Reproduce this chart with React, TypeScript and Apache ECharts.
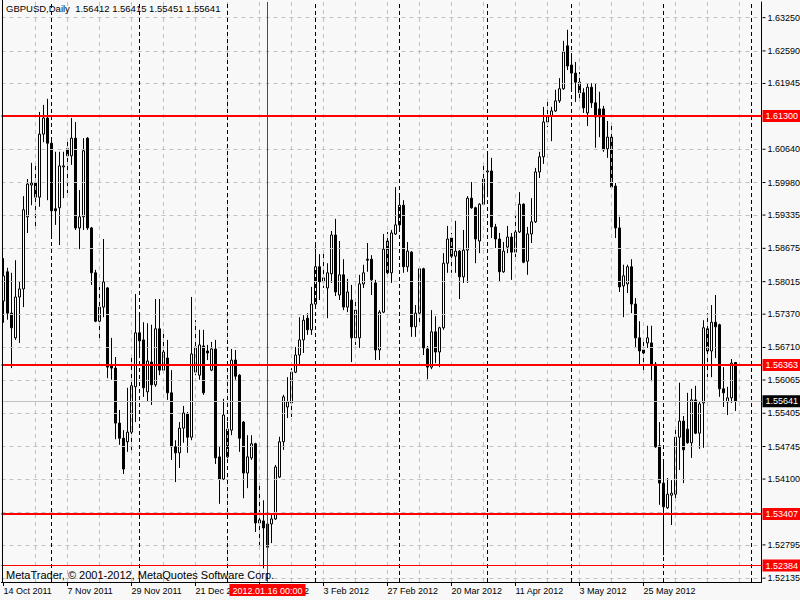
import React, { useEffect, useRef } from "react";
import * as echarts from "echarts";

// ---------- texts ----------
const SYMBOL_TITLE = "GBPUSD,Daily";
const HEADER_OHLC = ["1.56412", "1.56415", "1.55451", "1.55641"];
const COPYRIGHT = "MetaTrader, \u00A9 2001-2012, MetaQuotes Software Corp.";

// ---------- daily bars (14 Oct 2011 onward, weekdays) ----------
const opens = [
  1.5763, 1.5821, 1.5739, 1.569, 1.5771, 1.5787, 1.593, 1.5993, 1.5997, 1.5969,
  1.6094, 1.6126, 1.6076, 1.5946, 1.5948, 1.6029, 1.6065, 1.6051, 1.6086, 1.5908,
  1.593, 1.6086, 1.5908, 1.5819, 1.5723, 1.5751, 1.5789, 1.5636, 1.563, 1.5521,
  1.5491, 1.5484, 1.5503, 1.5593, 1.57, 1.5686, 1.5583, 1.5642, 1.5597, 1.5708,
  1.5626, 1.565, 1.5581, 1.5474, 1.5462, 1.5511, 1.5539, 1.5493, 1.5622, 1.5616,
  1.5674, 1.5664, 1.5626, 1.5668, 1.5454, 1.541, 1.5454, 1.5507, 1.5646, 1.5616,
  1.5523, 1.5422, 1.5452, 1.548, 1.5323, 1.5327, 1.5321, 1.5321, 1.5331, 1.5414,
  1.5484, 1.5553, 1.5561, 1.5622, 1.5656, 1.5686, 1.5729, 1.5706, 1.5757, 1.5831,
  1.5801, 1.5789, 1.5817, 1.5894, 1.5775, 1.5815, 1.5751, 1.5765, 1.569, 1.569,
  1.5797, 1.5846, 1.5846, 1.5799, 1.5666, 1.5741, 1.5882, 1.5819, 1.5896, 1.5914,
  1.5953, 1.5831, 1.586, 1.5712, 1.5739, 1.5827, 1.5668, 1.5632, 1.5702, 1.5662,
  1.571, 1.5838, 1.5888, 1.5852, 1.5862, 1.5811, 1.5864, 1.5967, 1.5948, 1.5882,
  1.5955, 1.6019, 1.6021, 1.591, 1.5886, 1.5821, 1.587, 1.589, 1.586, 1.59,
  1.5955, 1.5842, 1.5896, 1.592, 1.6019, 1.6049, 1.6118, 1.613, 1.614, 1.616,
  1.6184, 1.6269, 1.6231, 1.6215, 1.6197, 1.6176, 1.6136, 1.6187, 1.6156, 1.6144,
  1.6144, 1.6065, 1.6088, 1.5991, 1.5908, 1.5793, 1.5797, 1.5831, 1.5757, 1.569,
  1.5666, 1.568, 1.568, 1.5638, 1.5476, 1.5402, 1.5353, 1.5378, 1.538, 1.5493,
  1.5525, 1.5509, 1.5482, 1.5567, 1.5501, 1.5561, 1.5708, 1.5664, 1.5721, 1.5716,
  1.5589, 1.5563, 1.5571, 1.56412,
];
const closes = [
  1.5813, 1.5739, 1.571, 1.5771, 1.5787, 1.5944, 1.5995, 1.5997, 1.5969, 1.6094,
  1.6126, 1.6076, 1.5942, 1.5942, 1.6031, 1.6031, 1.6051, 1.6086, 1.5908, 1.593,
  1.6061, 1.5908, 1.5819, 1.5723, 1.5751, 1.5801, 1.5632, 1.563, 1.5521, 1.5491,
  1.543, 1.5503, 1.5595, 1.57, 1.5684, 1.5591, 1.5644, 1.5597, 1.5708, 1.5626,
  1.5662, 1.5581, 1.5474, 1.5462, 1.5511, 1.5541, 1.5493, 1.5658, 1.5672, 1.5676,
  1.5581, 1.566, 1.5668, 1.5452, 1.541, 1.5537, 1.5509, 1.5646, 1.5614, 1.5491,
  1.5422, 1.5454, 1.548, 1.5323, 1.5329, 1.5313, 1.5275, 1.5331, 1.5434, 1.5484,
  1.5573, 1.5563, 1.5622, 1.5656, 1.5686, 1.5725, 1.5706, 1.5757, 1.5831, 1.5801,
  1.5809, 1.5819, 1.5894, 1.5781, 1.5815, 1.5751, 1.5781, 1.569, 1.5745, 1.5797,
  1.5819, 1.5844, 1.5805, 1.5666, 1.5741, 1.5866, 1.5819, 1.5898, 1.5914, 1.5953,
  1.5831, 1.5862, 1.5712, 1.5739, 1.5827, 1.567, 1.5632, 1.5702, 1.5662, 1.571,
  1.5838, 1.5886, 1.5852, 1.5862, 1.5811, 1.5864, 1.5967, 1.5948, 1.5886, 1.5955,
  1.6005, 1.6021, 1.591, 1.5886, 1.5821, 1.5862, 1.589, 1.586, 1.59, 1.5955,
  1.584, 1.5896, 1.592, 1.6019, 1.6049, 1.6118, 1.613, 1.614, 1.616, 1.6184,
  1.6257, 1.6229, 1.6215, 1.6197, 1.6176, 1.6146, 1.6187, 1.6156, 1.6128, 1.6128,
  1.6063, 1.6088, 1.5989, 1.5908, 1.5791, 1.5813, 1.5831, 1.5757, 1.569, 1.5664,
  1.566, 1.569, 1.5636, 1.5474, 1.5402, 1.5355, 1.538, 1.5382, 1.5493, 1.5525,
  1.5468, 1.5482, 1.5567, 1.5501, 1.5559, 1.571, 1.5664, 1.5721, 1.5712, 1.5589,
  1.5581, 1.5571, 1.564, 1.55641,
];
const lows = [
  1.572, 1.5726, 1.563, 1.5686, 1.568, 1.5751, 1.5898, 1.5953, 1.5908, 1.595,
  1.6078, 1.5963, 1.5888, 1.5914, 1.5874, 1.5967, 1.5977, 1.6033, 1.5904, 1.5866,
  1.5904, 1.5904, 1.5795, 1.5721, 1.5688, 1.5731, 1.561, 1.5607, 1.5489, 1.5478,
  1.542, 1.5464, 1.5464, 1.5523, 1.5656, 1.5573, 1.5563, 1.5557, 1.5593, 1.5616,
  1.5622, 1.5567, 1.5448, 1.5404, 1.5432, 1.5482, 1.5462, 1.5487, 1.5616, 1.5607,
  1.5577, 1.5646, 1.5624, 1.544, 1.5361, 1.5408, 1.5442, 1.5497, 1.5607, 1.5464,
  1.5372, 1.5392, 1.5448, 1.5305, 1.5275, 1.5233, 1.5273, 1.5283, 1.5329, 1.5412,
  1.5468, 1.5531, 1.5533, 1.562, 1.5636, 1.566, 1.5696, 1.5696, 1.5755, 1.5765,
  1.5789, 1.5729, 1.5799, 1.5773, 1.5765, 1.5745, 1.5741, 1.5642, 1.5676, 1.567,
  1.5789, 1.5821, 1.5775, 1.5646, 1.5646, 1.5739, 1.5809, 1.5799, 1.5894, 1.5908,
  1.5819, 1.5821, 1.5692, 1.5692, 1.5719, 1.5656, 1.5608, 1.5628, 1.564, 1.5632,
  1.5706, 1.5819, 1.5819, 1.5819, 1.5767, 1.5799, 1.5799, 1.5946, 1.5838, 1.5858,
  1.5953, 1.5969, 1.5888, 1.5868, 1.5801, 1.5819, 1.5858, 1.5805, 1.585, 1.5898,
  1.5838, 1.5815, 1.5878, 1.5918, 1.6007, 1.6035, 1.6108, 1.608, 1.6138, 1.6156,
  1.6182, 1.6221, 1.6185, 1.6158, 1.6158, 1.6136, 1.611, 1.6146, 1.6067, 1.6088,
  1.6059, 1.6047, 1.5987, 1.5888, 1.5781, 1.5731, 1.5779, 1.5739, 1.5672, 1.5636,
  1.5626, 1.567, 1.5604, 1.5472, 1.5359, 1.5259, 1.5351, 1.5319, 1.537, 1.5428,
  1.5402, 1.548, 1.5452, 1.5499, 1.547, 1.5472, 1.5612, 1.5612, 1.565, 1.5573,
  1.5553, 1.5537, 1.5561, 1.55451,
];
const highs = [
  1.5848, 1.5829, 1.5819, 1.5844, 1.5801, 1.5971, 1.6005, 1.6037, 1.6039, 1.6138,
  1.6152, 1.6164, 1.6086, 1.6059, 1.6059, 1.6059, 1.6086, 1.6126, 1.6118, 1.5983,
  1.6086, 1.6088, 1.591, 1.5825, 1.5791, 1.5886, 1.5791, 1.569, 1.5652, 1.5547,
  1.5507, 1.5591, 1.5652, 1.5777, 1.5741, 1.5721, 1.5719, 1.5716, 1.5767, 1.5767,
  1.5706, 1.5686, 1.5626, 1.5487, 1.5523, 1.5555, 1.5543, 1.5771, 1.5725, 1.5706,
  1.5706, 1.5676, 1.5682, 1.5686, 1.5474, 1.5569, 1.5527, 1.5668, 1.5666, 1.5618,
  1.5525, 1.5497, 1.5497, 1.5482, 1.5404, 1.5368, 1.5343, 1.5339, 1.5438, 1.5494,
  1.5577, 1.5612, 1.563, 1.5672, 1.5731, 1.5735, 1.5739, 1.5791, 1.588, 1.5856,
  1.5858, 1.5838, 1.5902, 1.5926, 1.5882, 1.5846, 1.5807, 1.5795, 1.5765, 1.5815,
  1.5835, 1.5878, 1.5854, 1.5805, 1.5745, 1.5896, 1.59, 1.5904, 1.5989, 1.5977,
  1.5963, 1.588, 1.5862, 1.5755, 1.5831, 1.5829, 1.5674, 1.5745, 1.5733, 1.5712,
  1.5858, 1.5912, 1.5898, 1.5922, 1.5864, 1.5904, 1.5971, 1.5999, 1.595, 1.5957,
  1.6035, 1.6059, 1.6047, 1.5916, 1.5898, 1.588, 1.5912, 1.5898, 1.5934, 1.5979,
  1.5957, 1.591, 1.5967, 1.6027, 1.6059, 1.6148, 1.6162, 1.6148, 1.6182, 1.6205,
  1.6279, 1.6301, 1.6249, 1.6237, 1.6217, 1.6185, 1.6195, 1.6195, 1.6195, 1.6178,
  1.615, 1.612, 1.6112, 1.5997, 1.593, 1.5835, 1.5835, 1.5846, 1.5769, 1.5723,
  1.569, 1.5714, 1.5714, 1.5642, 1.5523, 1.5442, 1.5412, 1.5408, 1.5513, 1.5601,
  1.5535, 1.5581, 1.5589, 1.5595, 1.5563, 1.5725, 1.5739, 1.5755, 1.5775, 1.5718,
  1.5632, 1.5593, 1.5648, 1.56415,
];

// ---------- axes / levels ----------
const SLOT_COUNT = 190; // bars + empty chart shift on the right
const MONTH_NAMES = ["Jan", "Feb", "Mar", "Apr", "May", "Jun", "Jul", "Aug", "Sep", "Oct", "Nov", "Dec"];
const X_LABEL_EVERY = 16;
const X_GRID_EVERY = 8;
const monthSeparators = [12, 34, 56, 78, 99, 121, 142, 165, 187];
const gridPrices = [
  1.6325, 1.6259, 1.61945, 1.613, 1.6064, 1.5998, 1.59335, 1.58675, 1.58015,
  1.5737, 1.5671, 1.56065, 1.55405, 1.54745, 1.541, 1.5344, 1.52795, 1.52135,
];
const yTickLabels = [
  "1.63250", "1.62590", "1.61945", "1.60640", "1.59980", "1.59335", "1.58675", "1.58015",
  "1.57370", "1.56710", "1.56065", "1.55405", "1.54745", "1.54100", "1.52795", "1.52135",
];
const levelPrices = [1.613, 1.56363, 1.53407];
const levelLabels = ["1.61300", "1.56363", "1.53407"];
const bidPrice = 1.55641;
const bidLabel = "1.55641";
const crossPrice = 1.52384;
const crossPriceLabel = "1.52384";
const crossIndex = 66;
const crossTimeLabel = "2012.01.16 00:00";
const Y_MIN = 1.52059;
const Y_MAX = 1.6356;

const FONT = "'Liberation Sans', Arial, sans-serif";

function buildCategories(): string[] {
  const out: string[] = [];
  const d = new Date(Date.UTC(2011, 9, 14));
  while (out.length < SLOT_COUNT) {
    const wd = d.getUTCDay();
    if (wd !== 0 && wd !== 6) {
      out.push(`${d.getUTCDate()} ${MONTH_NAMES[d.getUTCMonth()]} ${d.getUTCFullYear()}`);
    }
    d.setUTCDate(d.getUTCDate() + 1);
  }
  return out;
}

export default function App() {
  const ref = useRef<HTMLDivElement>(null);

  useEffect(() => {
    if (!ref.current) return;
    const chart = echarts.init(ref.current, undefined, { renderer: "svg" });
    const categories = buildCategories();
    const candles = opens.map((o, i) => [o, closes[i], lows[i], highs[i]]);

    const gridLineItems: any[] = [];
    gridPrices.forEach((p) => {
      const lbl = yTickLabels.find((l) => Math.abs(parseFloat(l) - p) < 1e-7);
      gridLineItems.push({
        yAxis: p,
        lineStyle: { color: "#c0c0c0", type: [4, 4], width: 1 },
        label: {
          show: !!lbl,
          position: "end",
          formatter: lbl ? `{t|}{v|${lbl}}` : "",
          color: "#000",
          fontFamily: FONT,
          fontSize: 9,
          distance: 1,
          rich: {
            t: { width: 3, height: 1, backgroundColor: "#000" },
            v: { color: "#000", fontFamily: FONT, fontSize: 9, padding: [0, 0, 0, 2] },
          },
        },
      });
    });
    for (let i = X_GRID_EVERY; i < SLOT_COUNT; i += X_GRID_EVERY) {
      gridLineItems.push({
        xAxis: i,
        lineStyle: { color: "#c0c0c0", type: [4, 4], width: 1 },
        label: { show: false },
      });
    }
    monthSeparators.forEach((i) => {
      gridLineItems.push({
        xAxis: i,
        lineStyle: { color: "#000", type: [4, 3], width: 1 },
        label: { show: false },
      });
    });
    gridLineItems.push({
      yAxis: bidPrice,
      lineStyle: { color: "#c0c0c0", type: "solid", width: 1 },
      label: {
        show: true,
        position: "end",
        formatter: bidLabel,
        color: "#fff",
        backgroundColor: "#000",
        padding: [2, 3, 1, 3],
        fontFamily: FONT,
        fontSize: 9,
        distance: 1,
      },
    });

    const redLabel = (text: string) => ({
      show: true,
      position: "end",
      formatter: text,
      color: "#fff",
      backgroundColor: "#ff0000",
      padding: [2, 3, 1, 3],
      fontFamily: FONT,
      fontSize: 9,
      distance: 1,
    });

    const levelItems: any[] = levelPrices.map((p, k) => ({
      yAxis: p,
      lineStyle: { color: "#ff0000", type: "solid", width: 2 },
      label: redLabel(levelLabels[k]),
    }));
    levelItems.push({
      yAxis: crossPrice,
      lineStyle: { color: "#ff0000", type: "solid", width: 1 },
      label: redLabel(crossPriceLabel),
    });
    levelItems.push({
      xAxis: crossIndex,
      lineStyle: { color: "#ff0000", type: "solid", width: 1 },
      label: {
        show: true,
        position: "start",
        formatter: crossTimeLabel,
        color: "#fff",
        backgroundColor: "#ff0000",
        padding: [2, 3, 1, 3],
        fontFamily: FONT,
        fontSize: 9,
        distance: 2,
      },
    });

    const header = `${SYMBOL_TITLE}  ${HEADER_OHLC.join(" ")}`;

    chart.setOption({
      animation: false,
      backgroundColor: "#f8f8f8",
      grid: { left: 1.5, right: 38.5, top: 2, bottom: 18, containLabel: false },
      xAxis: {
        type: "category",
        data: categories,
        boundaryGap: true,
        axisLine: { show: true, lineStyle: { color: "#000", width: 1 } },
        axisTick: {
          show: true,
          alignWithLabel: true,
          interval: (i: number) => i % X_LABEL_EVERY === 0,
          length: 4,
          lineStyle: { color: "#000" },
        },
        axisLabel: {
          show: true,
          interval: (i: number) => i % X_LABEL_EVERY === 0,
          align: "left",
          margin: 4,
          color: "#000",
          fontFamily: FONT,
          fontSize: 9,
          showMinLabel: true,
          showMaxLabel: false,
        },
        splitLine: { show: false },
      },
      yAxis: {
        type: "value",
        position: "right",
        min: Y_MIN,
        max: Y_MAX,
        axisLine: { show: true, lineStyle: { color: "#000", width: 1 } },
        axisTick: { show: false },
        axisLabel: { show: false },
        splitLine: { show: false },
      },
      graphic: [
        {
          type: "line",
          shape: { x1: 2.5, y1: 0, x2: 2.5, y2: 582 },
          style: { stroke: "#000", lineWidth: 1 },
          z: 10,
        },
        {
          type: "text",
          left: 6,
          top: 3,
          style: { text: header, fill: "#000", font: `9.5px ${FONT}` },
          z: 10,
        },
        {
          type: "text",
          left: 6,
          top: 569,
          style: { text: COPYRIGHT, fill: "#000", font: `11px ${FONT}` },
          z: 10,
        },
      ],
      series: [
        {
          type: "line",
          data: [],
          z: 1,
          silent: true,
          markLine: {
            silent: true,
            precision: 6,
            symbol: ["none", "none"],
            animation: false,
            data: gridLineItems,
          },
        },
        {
          type: "candlestick",
          z: 2,
          barWidth: 2,
          data: candles,
          itemStyle: {
            color: "#ffffff",
            color0: "#000000",
            borderColor: "#000000",
            borderColor0: "#000000",
            borderWidth: 1,
          },
        },
        {
          type: "line",
          data: [],
          z: 5,
          silent: true,
          markLine: {
            silent: true,
            precision: 6,
            symbol: ["none", "none"],
            animation: false,
            data: levelItems,
          },
        },
      ],
    });

    return () => chart.dispose();
  }, []);

  return (
    <div
      ref={ref}
      style={{ position: "fixed", left: 0, top: 0, width: 800, height: 600, background: "#f8f8f8" }}
    />
  );
}
